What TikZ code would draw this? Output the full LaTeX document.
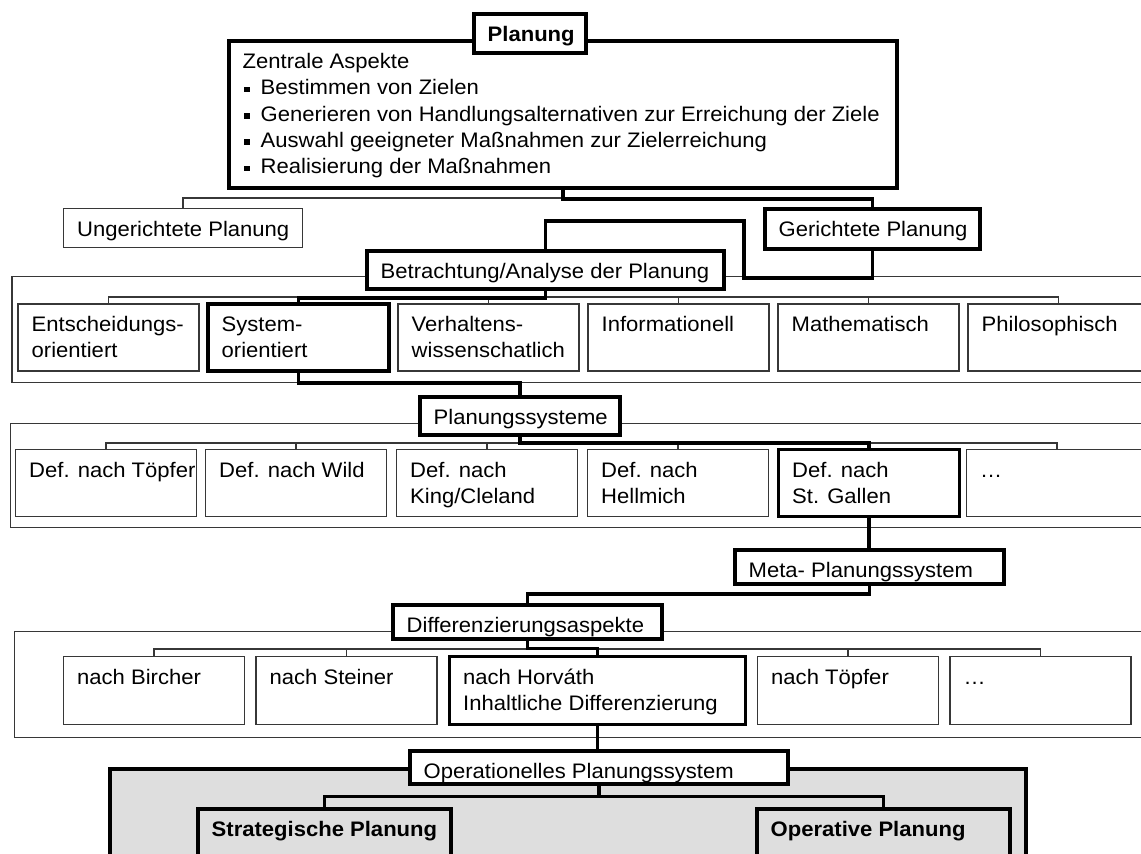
\documentclass[tikz,border=0pt]{standalone}
\usepackage{fontspec}
\setmainfont{Liberation Sans}[FakeStretch=1.05]

\pgfdeclarelayer{panels}
\pgfdeclarelayer{links}
\pgfsetlayers{panels,links,main}

\definecolor{panelgray}{RGB}{222,222,222}
\definecolor{thingray}{RGB}{55,55,55}

\tikzset{
  box/.style={draw=thingray, line width=1.4pt, fill=white, anchor=north west,
    inner sep=0pt, outer sep=0pt},
  heavy/.style={draw=black, line width=3.6pt},
  lbl/.style={anchor=north west, inner sep=0pt, align=left,
    font=\fontsize{21}{26.3}\selectfont},
  thinlink/.style={draw=thingray, line width=1.4pt},
  thicklink/.style={draw=black, line width=3.6pt},
}

% box with top-left text: name, x, y, width, height, extra style, text
\newcommand\bx[7]{%
  \node[box,#6,minimum width=#4,minimum height=#5] (#1) at (#2,#3) {};
  \node[lbl] (#1-t) at ([xshift=13.5pt,yshift=-9pt]#1.north west) {\strut #7};}

% small square bullet
\newcommand\bul{\makebox[18pt][l]{\hspace{1.5pt}\rule[2.6pt]{5.5pt}{5.5pt}}}

\begin{document}
\begin{tikzpicture}[x=1pt,y=-1pt]
\useasboundingbox (0,0) rectangle (1141,854);

% group panels
\begin{pgfonlayer}{panels}
  \node[box, minimum width=1150, minimum height=106] (pan1) at (12,276.5) {};
  \node[box, minimum width=1150, minimum height=104] (pan2) at (10.5,423.5) {};
  \node[box, minimum width=1150, minimum height=106] (pan3) at (14.5,631.5) {};
  \node[box, heavy, fill=panelgray, minimum width=916, minimum height=120] (pan4) at (110,769) {};
\end{pgfonlayer}

% top level
\bx{main}{229}{41}{668}{147}{heavy}{Zentrale Aspekte\\
  \bul Bestimmen von Zielen\\
  \bul Generieren von Handlungsalternativen zur Erreichung der Ziele\\
  \bul Auswahl geeigneter Maßnahmen zur Zielerreichung\\
  \bul Realisierung der Maßnahmen}
\bx{plan}{474}{14}{112}{39}{heavy}{\textbf{Planung}}
\bx{ung}{63.5}{208.5}{239}{39}{}{Ungerichtete Planung}
\bx{ger}{765}{209}{215}{40}{heavy}{Gerichtete Planung}
\bx{betr}{367}{251}{357}{38}{heavy}{Betrachtung/Analyse der Planung}

% views
\bx{ra1}{18}{304}{181}{67}{}{Entscheidungs-\\orientiert}
\bx{ra2}{208}{304}{181}{67}{heavy}{System-\\orientiert}
\bx{ra3}{398}{304}{181}{67}{}{Verhaltens-\\wissenschatlich}
\bx{ra4}{588}{304}{181}{67}{}{Informationell}
\bx{ra5}{778}{304}{181}{67}{}{Mathematisch}
\bx{ra6}{968}{304}{181}{67}{}{Philosophisch}

% planning systems
\bx{psys}{420}{397}{200}{38}{heavy}{Planungssysteme}
\bx{rb1}{15.5}{449.5}{181}{67}{}{Def. nach Töpfer}
\bx{rb2}{205.5}{449.5}{181}{67}{}{Def. nach Wild}
\bx{rb3}{396.5}{449.5}{181}{67}{}{Def. nach\\King/Cleland}
\bx{rb4}{587.5}{449.5}{181}{67}{}{Def. nach\\Hellmich}
\bx{rb5}{778.5}{449.5}{181}{67}{heavy}{Def. nach\\St. Gallen}
\bx{rb6}{966.5}{449.5}{181}{67}{}{…}

% differentiation
\bx{meta}{735}{550}{269}{34}{heavy}{Meta- Planungssystem}
\bx{diff}{393}{605}{269}{34}{heavy}{Differenzierungsaspekte}
\bx{rc1}{63.5}{656.5}{181}{68}{}{nach Bircher}
\bx{rc2}{256}{656.5}{181}{68}{}{nach Steiner}
\bx{rc3}{449.5}{656.5}{296}{68}{heavy}{nach Horváth\\Inhaltliche Differenzierung}
\bx{rc4}{757.5}{656.5}{181}{68}{}{nach Töpfer}
\bx{rc5}{950}{656.5}{181}{68}{}{…}

% operational system
\bx{ops}{410}{751}{378}{33}{heavy}{Operationelles Planungssystem}
\bx{strat}{198}{809}{253}{70}{heavy,fill=panelgray}{\textbf{Strategische Planung}}
\bx{oper}{757}{809}{253}{70}{heavy,fill=panelgray}{\textbf{Operative Planung}}

% connectors
\begin{pgfonlayer}{links}
  \draw[thinlink] (main.south) -- ++(0,10) -| (ung.north);
  \draw[thicklink] (main.south) -- ++(0,11) -| (ger.north);
  \coordinate (k1) at (744,278);
  \coordinate (k2) at (744,221);
  \draw[thicklink] (ger.south) |- (k1) -- (k2) -| (betr.north);

  \foreach \b in {ra1,ra2,ra3,ra4,ra5,ra6}
    \draw[thinlink] (betr.south) -- ++(0,8) -| (\b.north);
  \draw[thicklink] (betr.south) -- ++(0,9) -| (ra2.north);
  \draw[thicklink] (ra2.south) -- ++(0,12) -| (psys.north);

  \foreach \b in {rb1,rb2,rb3,rb4,rb5,rb6}
    \draw[thinlink] (psys.south) -- ++(0,8) -| (\b.north);
  \draw[thicklink] (psys.south) -- ++(0,8) -| (rb5.north);
  \draw[thicklink] (rb5.south) -- (rb5.south |- meta.north);
  \draw[thicklink] (meta.south) -- ++(0,10) -| (diff.north);

  \foreach \b in {rc1,rc2,rc3,rc4,rc5}
    \draw[thinlink] (diff.south) -- ++(0,10) -| (\b.north);
  \draw[thicklink] (diff.south) -- ++(0,9.5) -| (rc3.north);
  \draw[thicklink] (rc3.south) -- (rc3.south |- ops.north);
  \draw[thicklink] (ops.south) -- ++(0,12.5) -| (strat.north);
  \draw[thicklink] (ops.south) -- ++(0,12.5) -| (oper.north);
\end{pgfonlayer}
\end{tikzpicture}
\end{document}
